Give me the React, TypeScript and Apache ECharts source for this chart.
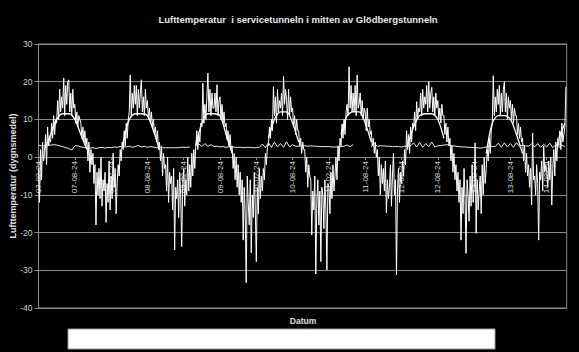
import React, { useEffect, useRef } from "react";
import * as echarts from "echarts";

// x positions are months since 2007-02-24
const START_YEAR = 2007;
const START_MONTH = 2; // February
const NOISY_STEP = 1 / 6; // months between shown samples
const SMOOTH_STEP = 1;
const TUNNEL_STEP = 0.5;
const X_MAX = 87.3;

const TITLE = "Lufttemperatur  i servicetunneln i mitten av Glödbergstunneln";
const Y_NAME = "Lufttemperatur (dygnsmedel)";
const X_NAME = "Datum";
const Y_MIN = -40;
const Y_MAX = 30;
const Y_STEP = 10;
const X_LABEL_STEP = 6;

// outdoor daily mean (noisy series), 6 samples per month
const outdoor: number[] = [
  -3, -12, 2, -6, 4, -1,   1, 6, -2, 8, 3, 5,   4, 9, 5, 11, 6, 10,
  9, 15, 10, 18, 12, 16,   13, 21, 11, 19, 14, 20,   20.5, 12, 17, 11, 18, 13,
  14, 9, 12, 8, 11, 10,   9, 5, 8, 4, 7, 3,   5, -1, 4, -4, 2, -2,
  1, -7, -2, -18, -4, -10,   -3, -11, 0, -13, -6, -9,   -4, -17.3, -7, -12, -1, -14,
  -5, -11, 1, -8, -3, -15,   -7, -2, -5, 2, -1, 4,   2, 7, 3, 9, 5, 10,
  12, 21.8, 11, 17, 13, 19,   14, 19, 11, 18, 13, 17,   20.5, 12, 16, 11, 18, 13,
  15, 10, 13, 9, 12, 8,   10, 6, 8, 4, 7, 2,   4, -1, 3, -5, 1, -3,
  -2, -9, 0, -12, -4, -7,   -5, -14, -3, -24.6, -8, -11,   -6, -16, -4, -10, -23.7, -7,
  -3, -13, -6, -10, 0, -9,   -2, -8, 1, -5, 2, -3,   3, 7, 2, 6, 4, 9,
  8, 19.6, 9, 14, 10, 16,   22.3, 12, 18, 11, 17, 13,   13, 17, 12, 19.2, 11, 15,
  16, 10, 14, 9, 12, 8,   9, 4.6, 7, 3, 6, 2,   3, -3, 1, -6, 0, -8,
  -2, -10, -4, -12, -6, -22,   -8, -15, -33.3, -5, -12, -18,   -6, -25.4, -10, -16, -4, -14,
  -27.7, -8, -15, -3, -11, -5,   -9, -3, -6, 1, -2, 3,   3, 8, 5, 10, 7, 18.7,
  11, 16, 9, 18, 12, 15,   13, 17, 11, 21.4, 14, 18,   15, 10, 18, 11, 16, 12,
  13, 8, 11, 6, 10, 7,   7, 3, 5, 1, 4, 2,   2, -4, 0, -8, -2, -5,
  -6, -20.6, -9, -14, -5, -31,   -12, -6, -18, -9, -27.7, -8,   -10, -19, -6, -14, -29.9, -7,
  -8, -15, -4, -11, -2, -9,   -5, 0, -6, 3, -1, 5,   3, 8.8, 5, 10, 6, 12,
  14, 11, 24, 13, 19, 12,   17, 12, 19, 11, 21.8, 13,   14, 17, 11, 15, 10, 13,
  12, 7, 13, 8, 10, 6,   7, 3, 5, 1, 4, 0,   2, -5, 0, -10, -2, -7,
  -3, -9, -1, -14.8, -6, -11,   -8, -2, -13, -5, 1, -10,   -6, -31.2, -9, -3, -12, -4,
  -7, -1, -5, 2, -2, 7,   2, 6, 1, 8, 4, 9,   8, 12, 7, 14.7, 10, 13,
  12, 17, 11, 18, 13, 16,   14, 19, 12, 20, 13, 17,   18.5, 12, 16, 11, 17, 13,
  15, 10, 13, 9, 14, 11,   11, 6, 9, 4, 8, 3,   5, -1, 3, -4, 1, -6,
  -2, -9, -4, -12, -6, -22,   -8, -15, -3, -11, -25.5, -6,   -10, -17, -5, -13, -2, -12,
  -8, 3.8, -20.2, -6, -14, -9,   -5, -15, -2, -10, 0, -7,   -3, 2, -1, 5, 1, 7,
  9, 21.6, 11, 16, 12, 18,   14, 19, 11, 17, 12, 18,   20, 12, 17, 10, 16, 13,
  15, 10, 14, 9, 13, 11,   11, 6, 9, 5, 8, 4,   5, -1, 3, -4, 1, -5,
  -2, -8, -3, -12.7, 6.4, -6,   -5, -10, -2, -7, -22, -4,   -6, -1, -9, 3, -4, -2,
  -4, -8, -1, -6, 0, -12.7,   -3, 2, -5, 4, -1, 5,   3, 7, 2, 9, 4, 6,
  8, 18.7,
];

// smoother outdoor series (monthly); only readable in the warm months
const outdoorSmooth: (number | null)[] = [
  null, 2, 6, 10, 11.5, 11.5, 10, 6, 2, null, null, null,
  null, null, 4, 10, 11.5, 11.5, 11, 7, 2, null, null, null,
  null, null, 3, 9, 11.5, 11.5, 11, 6, 1, null, null, null,
  null, null, 5, 10, 12, 12, 9, 4, null, null, null, null,
  null, null, 6, 11, 12, 12, 9, 4, null, null, null, null,
  null, 3, 8, 11, 11.5, 11.5, 10, 5, null, null, null, null,
  null, null, 1, 9, 11, 11, 10, 6, 1, null, null, null,
  null, null, 5, 9,
];

// service tunnel temperature (half-monthly), null = missing
const tunnel: (number | null)[] = [
  3.2, 3.0, 3.0, 3.1, 3.2, 3.3, 3.2, 3.0, 2.8, 2.5, 2.3, 1.9,
  3.0, 3.0, 2.7, 2.6, 2.5, 2.4, 2.5, 2.3, 2.5, 2.6, 2.4, 2.6,
  2.5, 2.7, 2.6, 2.8, 2.8, 2.7, 2.9, 2.6, 2.8, 3.1, 2.7, 2.9,
  2.6, 2.8, 2.7, 2.5, 2.6, 2.5, 2.5, 2.5, 2.5, 2.5, 2.5, 2.6,
  2.6, 2.6, 2.7, null, null, 3.5, 2.8, 3.6, 2.9, 3.3, 2.8, 2.9,
  2.7, 2.8, 2.6, 2.8, 2.7, 2.6, 2.6, 2.6, 2.5, 2.6, 2.6, 2.5,
  2.5, 2.6, 3.5, 2.5, 3.8, 2.6, 4.0, 2.7, 3.6, 2.6, 4.1, 2.7,
  3.3, 2.9, 2.9, 3.0, 3.0, 2.9, 3.0, 2.9, 2.9, 2.8, 2.8, 2.8,
  2.8, 2.7, 2.7, 2.7, 2.8, 2.9, 3.2, 2.8, 3.3, null, null, null,
  null, null, 2.7, 3.6, 2.9, 3.0, 3.0, 2.9, 2.9, 2.8, 2.8, 2.8,
  2.7, 2.9, 2.9, 3.0, 3.8, 2.7, 3.9, 2.6, 3.6, 2.8, 4.0, 2.7,
  3.0, 3.1, 3.2, 3.3, 3.1, 3.0, 2.9, 2.8, 2.7, 2.7, 2.6, 2.6,
  2.5, 2.5, 2.4, 2.5, 2.7, 2.9, 2.8, 2.8, 3.7, 2.6, 3.8, 2.7,
  3.6, 2.6, 3.9, 2.8, 3.2, 3.0, 2.9, 3.5, 2.7, 3.6, 2.6, 3.4,
  2.7, 3.7, 2.5, 3.3, 2.6, 3.2, 2.8,
];

function monthLabel(v: number): string {
  const r = Math.round(v);
  if (Math.abs(v - r) > 1e-6 || r % X_LABEL_STEP !== 0) return "";
  const total = START_MONTH - 1 + r;
  const y = START_YEAR + Math.floor(total / 12);
  const m = (total % 12) + 1;
  const yy = String(y % 100).padStart(2, "0");
  const mm = String(m).padStart(2, "0");
  return `${yy}-${mm}-24`;
}

function pairs(arr: (number | null)[], step: number) {
  return arr.map((v, i) => [i * step, v]);
}

const GRID_TOP = 44;
const GRID_BOTTOM = 44;
const CHART_H = 352;

export default function App() {
  const ref = useRef<HTMLDivElement>(null);
  useEffect(() => {
    if (!ref.current) return;
    const chart = echarts.init(ref.current, null, { renderer: "svg" });
    const font = "'Liberation Sans', Arial, sans-serif";
    const plotH = CHART_H - GRID_TOP - GRID_BOTTOM;
    const zeroOffset = -(plotH * (0 - Y_MIN)) / (Y_MAX - Y_MIN);
    chart.setOption({
      animation: false,
      backgroundColor: "#000000",
      textStyle: { fontFamily: font },
      title: {
        text: TITLE,
        left: 293,
        textAlign: "center",
        top: 9,
        textStyle: { color: "#e8e8e8", fontSize: 9.5, fontWeight: "bold", fontFamily: font },
      },
      grid: {
        left: 38.5,
        right: 12.3,
        top: GRID_TOP,
        bottom: GRID_BOTTOM,
        show: true,
        borderColor: "#8a8a8a",
        borderWidth: 1,
        backgroundColor: "transparent",
        outerBoundsMode: "none",
      },
      xAxis: {
        type: "value",
        min: 0,
        max: X_MAX,
        interval: X_LABEL_STEP,
        position: "bottom",
        offset: zeroOffset,
        axisLine: { show: true, onZero: false, lineStyle: { color: "#8a8a8a" } },
        axisTick: { show: true, length: 3, lineStyle: { color: "#8a8a8a" } },
        splitLine: { show: false },
        axisLabel: {
          rotate: 90,
          margin: 4,
          fontSize: 8,
          color: "#d8d8d8",
          fontFamily: font,
          showMaxLabel: false,
          formatter: monthLabel,
        },
      },
      yAxis: {
        type: "value",
        min: Y_MIN,
        max: Y_MAX,
        interval: Y_STEP,
        name: Y_NAME,
        nameLocation: "middle",
        nameGap: 21,
        nameMoveOverlap: false,
        nameTextStyle: { color: "#e0e0e0", fontSize: 9, fontWeight: "bold", fontFamily: font },
        axisLine: { show: true, onZero: false, lineStyle: { color: "#8a8a8a" } },
        axisTick: { show: true, length: 4, lineStyle: { color: "#8a8a8a" } },
        axisLabel: { fontSize: 8.5, color: "#d0d0d0", margin: 6, fontFamily: font },
        splitLine: { show: true, lineStyle: { color: "#8a8a8a", width: 1 } },
      },
      graphic: [
        {
          type: "text",
          x: 303,
          y: 321,
          style: {
            text: X_NAME,
            fill: "#e0e0e0",
            font: `bold 8.5px ${font}`,
            textAlign: "center",
            textVerticalAlign: "middle",
          },
        },
        {
          type: "rect",
          shape: { x: 68, y: 329, width: 427, height: 20 },
          style: { fill: "#ffffff", stroke: "#999999", lineWidth: 1 },
        },
      ],
      series: [
        {
          type: "line",
          data: pairs(outdoorSmooth, SMOOTH_STEP),
          showSymbol: false,
          symbol: "none",
          smooth: 0.3,
          connectNulls: false,
          lineStyle: { color: "#ffffff", width: 1.3 },
          z: 3,
        },
        {
          type: "line",
          data: pairs(outdoor, NOISY_STEP),
          showSymbol: false,
          symbol: "none",
          lineStyle: { color: "#ffffff", width: 1 },
          z: 4,
        },
        {
          type: "line",
          data: pairs(tunnel, TUNNEL_STEP),
          showSymbol: false,
          symbol: "none",
          connectNulls: false,
          lineStyle: { color: "#f0f0f0", width: 1 },
          z: 5,
        },
      ],
    });
    return () => chart.dispose();
  }, []);
  return (
    <div
      ref={ref}
      style={{ position: "fixed", left: 0, top: 0, width: 579, height: 352, background: "#000" }}
    />
  );
}
